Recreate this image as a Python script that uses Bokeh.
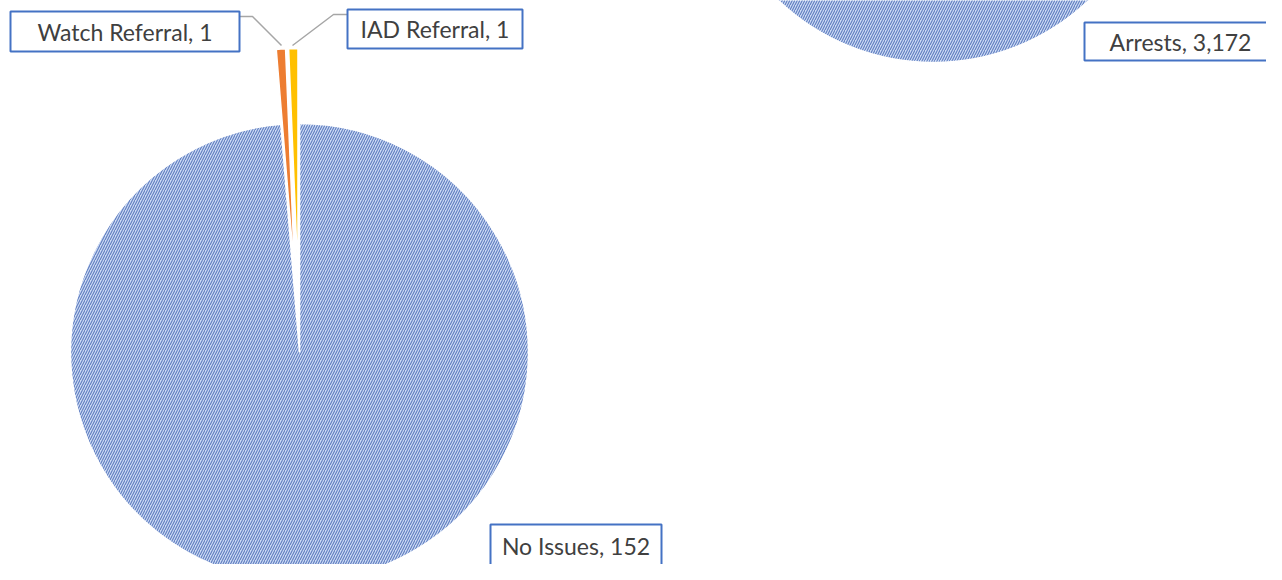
import math
from bokeh.plotting import figure
from bokeh.models import Range1d, ColumnDataSource
from bokeh.core.properties import value
from bokeh.embed import file_html
from bokeh.resources import INLINE

# ---- data ----
left_labels = ["No Issues", "Watch Referral", "IAD Referral"]
left_values = [152, 1, 1]
left_colors = ["#CDDBF4", "#ED7D31", "#FFC000"]
left_explode = [0, 75, 75]

right_labels = ["Arrests"]
right_values = [3172]

# ---- layout (reference pixel coordinates, y downward) ----
W, H = 1266, 564
def Y(py):
    return H - py

LEFT_C = (299, 352)
LEFT_R = 229
RIGHT_C = (933, -163)
RIGHT_R = 225

HATCH = dict(hatch_color="#5E7CC0", hatch_scale=5.0, hatch_weight=1.1)

# label boxes: (left, right, top, bottom) in pixels
left_boxes = [(490, 661, 524, 566), (10, 239, 11, 51), (347, 522, 9, 48)]
left_leaders = [None,
                [(239, 16), (252, 16), (281, 45)],
                [(292, 45), (333, 14), (347, 14)]]
right_boxes = [(1084, 1276, 22, 60)]

p = figure(width=W, height=H, output_backend="svg", toolbar_location=None,
           x_range=Range1d(0, W), y_range=Range1d(0, H),
           min_border=0, outline_line_color=None)
p.axis.visible = False
p.grid.visible = False
p.background_fill_color = "white"
p.border_fill_color = "white"

def pie(values, colors, explode, center, r):
    total = float(sum(values))
    cum = 0.0
    xs, ys, a0s, a1s, cols, hatch = [], [], [], [], [], []
    for i, (v, c, d) in enumerate(zip(values, colors, explode)):
        a0 = math.pi / 2 - 2 * math.pi * cum / total
        cum += v
        a1 = math.pi / 2 - 2 * math.pi * cum / total
        mid = (a0 + a1) / 2
        xs.append(center[0] + d * math.cos(mid))
        ys.append(Y(center[1]) + d * math.sin(mid))
        a0s.append(a0)
        a1s.append(a1)
        cols.append(c)
        hatch.append("/" if i == 0 else " ")
    src = ColumnDataSource(dict(x=xs, y=ys, a0=a0s, a1=a1s, c=cols, h=hatch))
    p.wedge(x="x", y="y", radius=r, start_angle="a0", end_angle="a1",
            direction="clock", source=src, fill_color="c", line_color="white",
            line_width=1.5, hatch_pattern="h", **HATCH)

pie(left_values, left_colors, left_explode, LEFT_C, LEFT_R)

# right pie (single visible slice)
if len(right_values) == 1:
    p.circle(x=[RIGHT_C[0]], y=[Y(RIGHT_C[1])], radius=RIGHT_R,
             fill_color=left_colors[0], line_color="white", line_width=1.5,
             hatch_pattern="/", **HATCH)
else:
    pie(right_values, [left_colors[0]] * len(right_values), [0] * len(right_values), RIGHT_C, RIGHT_R)

def labels(names, vals, boxes, leaders):
    for n, v, b, ld in zip(names, vals, boxes, leaders):
        if ld is not None:
            p.line([q[0] for q in ld], [Y(q[1]) for q in ld], line_color="#A6A6A6", line_width=1.5)
        l, r, t, btm = b
        p.quad(left=[l], right=[r], top=[Y(t)], bottom=[Y(btm)], fill_color="white",
               line_color="#4472C4", line_width=2)
        p.text(x=[(l + r) / 2], y=[Y((t + btm) / 2)], text=[f"{n}, {v:,}"],
               text_font=value("Lato"), text_font_size="23px", text_color="#404040",
               text_align="center", text_baseline="middle")

labels(left_labels, left_values, left_boxes, left_leaders)
labels(right_labels, right_values, right_boxes, [None])

open("out.html", "w").write(file_html(p, INLINE))
